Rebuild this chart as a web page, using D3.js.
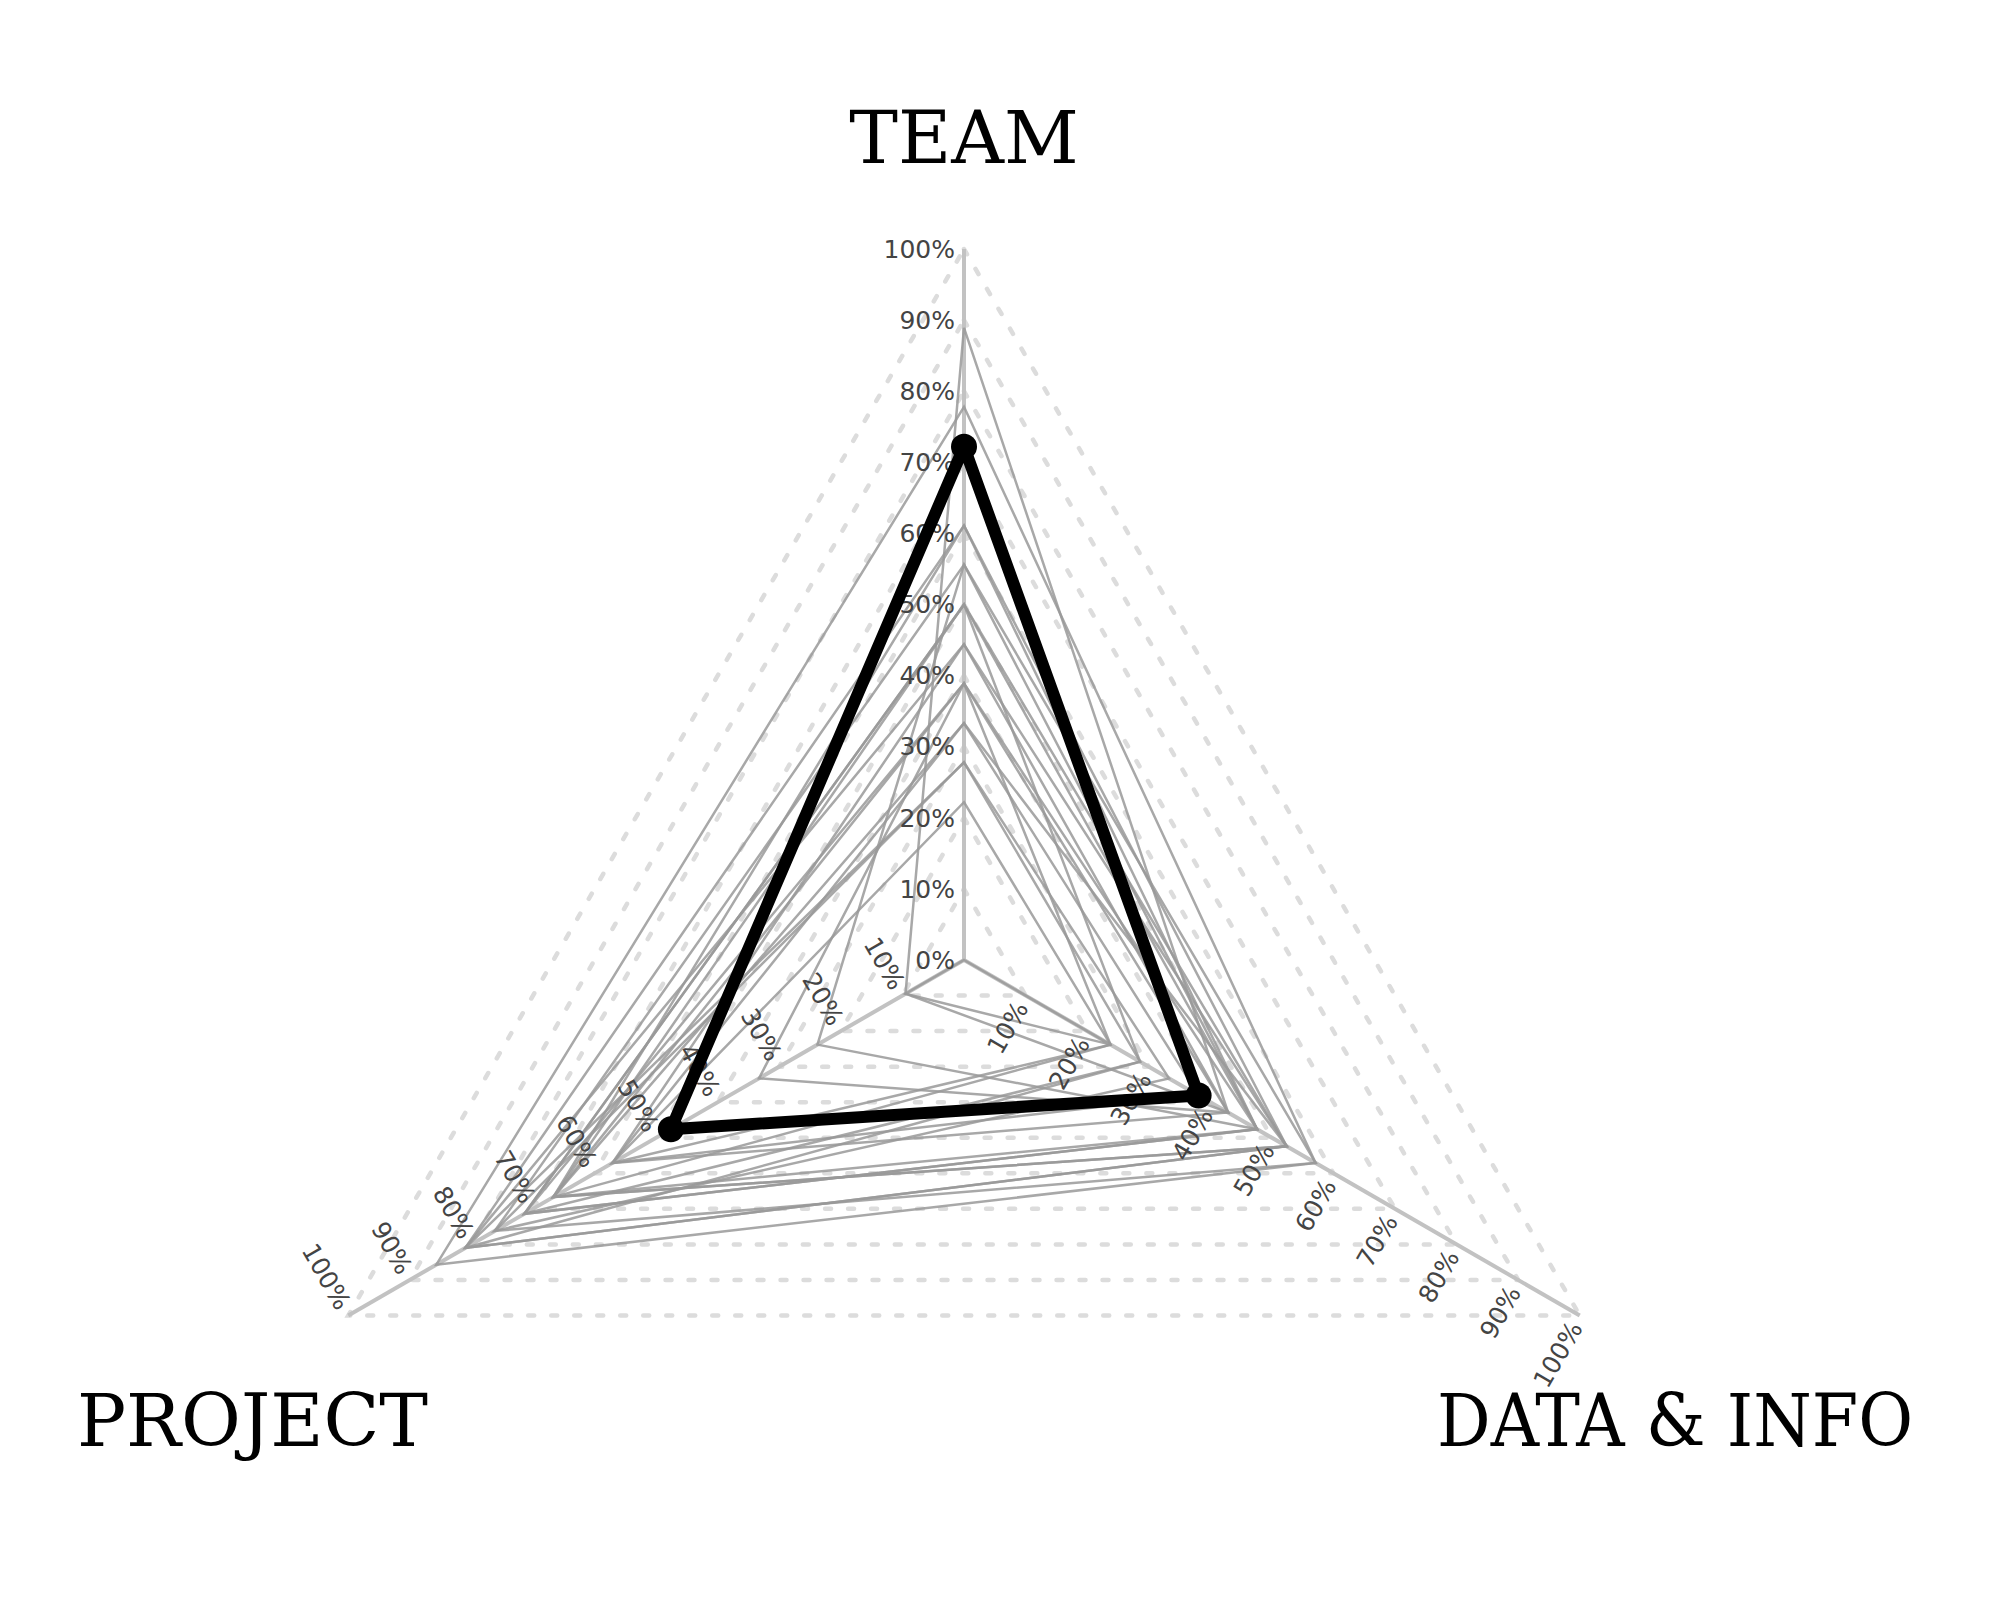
<!DOCTYPE html>
<html>
<head>
<meta charset="utf-8">
<script src="https://cdn.jsdelivr.net/npm/d3@7"></script>
<style>
  html, body { margin: 0; padding: 0; background: #fff; }
  svg { display: block; }
</style>
</head>
<body>
<svg id="chart" width="2000" height="1600"></svg>
<script>
// ---- data ----
const axisNames = ["TEAM", "DATA & INFO", "PROJECT"];
const tickValues = [0, 10, 20, 30, 40, 50, 60, 70, 80, 90, 100];
// one entry per respondent (percent of max on each axis); first one is highlighted
const teamScores    = [72.2, 88.9, 0.0, 77.8, 61.1, 61.1, 55.6, 55.6, 50.0, 50.0, 50.0, 44.4, 44.4, 38.9, 38.9, 38.9, 33.3, 33.3, 27.8, 27.8, 22.2];
const dataScores    = [38.1, 42.9, 23.8, 57.1, 52.4, 47.6, 57.1, 47.6, 52.4, 28.6, 47.6, 42.9, 52.4, 23.8, 47.6, 42.9, 38.1, 52.4, 28.6, 33.3, 23.8];
const projectScores = [47.6,  9.5,  9.5, 85.7, 81.0, 66.7, 76.2, 23.8, 66.7, 71.4, 71.4, 57.1, 81.0, 66.7, 71.4, 33.3, 57.1, 66.7, 81.0, 76.2, 57.1];
const highlightIndex = 0;

// ---- layout ----
const cx = 964, cy = 960, R = 711;
const angles = [-90, 30, 150].map(a => a * Math.PI / 180);
const r = d3.scaleLinear().domain([0, 100]).range([0, R]);
const pt = (axis, v) => [cx + r(v) * Math.cos(angles[axis]), cy + r(v) * Math.sin(angles[axis])];

const svg = d3.select("#chart");
svg.append("rect").attr("width", 2000).attr("height", 1600).attr("fill", "#fff");

// grid triangles (dotted)
const gridLevels = tickValues.filter(v => v > 0);
svg.append("g").selectAll("path").data(gridLevels).join("path")
  .attr("d", v => d3.line()([pt(0, v), pt(1, v), pt(2, v)]) + "Z")
  .attr("fill", "none").attr("stroke", "#dcdcdc").attr("stroke-width", 4.5)
  .attr("stroke-linecap", "round").attr("stroke-dasharray", "6,17");

// axis lines
svg.append("g").selectAll("line").data([0, 1, 2]).join("line")
  .attr("x1", cx).attr("y1", cy)
  .attr("x2", i => pt(i, 100)[0]).attr("y2", i => pt(i, 100)[1])
  .attr("stroke", "#c2c2c2").attr("stroke-width", 4);

// respondent triangles
const rows = teamScores.map((t, i) => [t, dataScores[i], projectScores[i]]);
const tri = row => d3.line()(row.map((v, a) => pt(a, v))) + "Z";
svg.append("g").selectAll("path").data(rows.filter((_, i) => i !== highlightIndex)).join("path")
  .attr("d", tri).attr("fill", "none").attr("stroke", "#999")
  .attr("stroke-opacity", 0.85).attr("stroke-width", 2.5).attr("stroke-linejoin", "miter");

// tick labels
const lab = svg.append("g").attr("font-family", "DejaVu Sans, sans-serif")
  .attr("font-size", 25).attr("fill", "#444");
tickValues.forEach(v => {
  const [x, y] = pt(0, v);
  lab.append("text").attr("x", x - 9).attr("y", y).attr("dy", "0.35em")
    .attr("text-anchor", "end").text(v + "%");
});
tickValues.filter(v => v > 0).forEach(v => {
  let [x, y] = pt(1, v);
  lab.append("text").attr("text-anchor", "end").attr("dy", "0.35em")
    .attr("transform", `translate(${x - 4},${y + 8}) rotate(-60)`).text(v + "%");
  [x, y] = pt(2, v);
  lab.append("text").attr("text-anchor", "end").attr("dy", "0.35em")
    .attr("transform", `translate(${x - 4},${y - 8}) rotate(60)`).text(v + "%");
});

// highlighted triangle
const hi = rows[highlightIndex];
svg.append("path").attr("d", tri(hi)).attr("fill", "none").attr("stroke", "#000")
  .attr("stroke-width", 12).attr("stroke-linejoin", "round");
svg.append("g").selectAll("circle").data(hi.map((v, a) => pt(a, v))).join("circle")
  .attr("cx", d => d[0]).attr("cy", d => d[1]).attr("r", 13).attr("fill", "#000");

// axis titles
const titles = svg.append("g").attr("font-family", "DejaVu Serif, serif")
  .attr("font-size", 73).attr("fill", "#000");
titles.append("text").attr("x", cx).attr("y", 163).attr("text-anchor", "middle").text(axisNames[0]);
titles.append("text").attr("x", 1913).attr("y", 1446).attr("text-anchor", "end")
  .attr("textLength", 476).attr("lengthAdjust", "spacingAndGlyphs").text(axisNames[1]);
titles.append("text").attr("x", 77).attr("y", 1446).attr("text-anchor", "start").text(axisNames[2]);
</script>
</body>
</html>
